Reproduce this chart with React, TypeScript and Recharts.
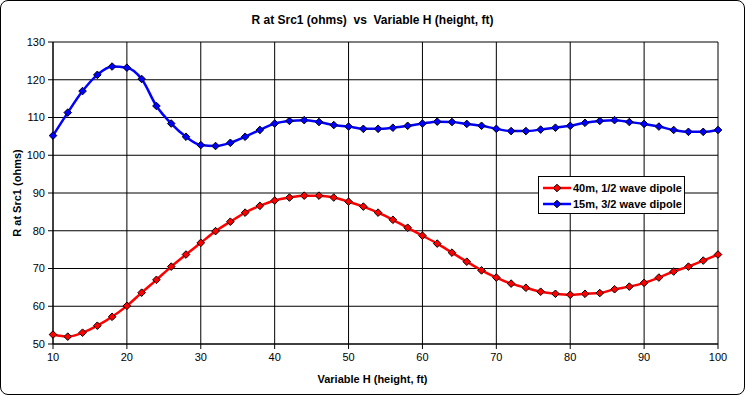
import React from 'react';
import { LineChart, Line, XAxis, YAxis, CartesianGrid, Legend } from 'recharts';

const heights = [10, 12, 14, 16, 18, 20, 22, 24, 26, 28, 30, 32, 34, 36, 38, 40, 42, 44, 46, 48, 50, 52, 54, 56, 58, 60, 62, 64, 66, 68, 70, 72, 74, 76, 78, 80, 82, 84, 86, 88, 90, 92, 94, 96, 98, 100];
const r40m = [52.5, 51.95, 53.0, 54.85, 57.2, 60.1, 63.6, 67.0, 70.5, 73.7, 76.8, 79.9, 82.4, 84.8, 86.6, 88.0, 88.8, 89.3, 89.3, 88.8, 87.7, 86.4, 84.8, 82.9, 80.8, 78.7, 76.6, 74.2, 71.8, 69.5, 67.6, 66.0, 64.9, 63.85, 63.3, 63.05, 63.3, 63.5, 64.5, 65.2, 66.2, 67.6, 69.2, 70.5, 72.1, 73.7];
const r15m = [105.2, 111.3, 117.0, 121.3, 123.5, 123.2, 120.2, 113.05, 108.4, 104.9, 102.7, 102.45, 103.3, 104.9, 106.7, 108.4, 109.1, 109.3, 108.8, 108.0, 107.6, 107.0, 107.0, 107.3, 107.8, 108.4, 108.9, 108.8, 108.3, 107.8, 107.0, 106.4, 106.4, 106.8, 107.3, 107.8, 108.6, 109.1, 109.3, 108.8, 108.3, 107.6, 106.7, 106.2, 106.2, 106.7];
const xTicks = [10, 20, 30, 40, 50, 60, 70, 80, 90, 100];
const yTicks = [50, 60, 70, 80, 90, 100, 110, 120, 130];
const seriesNames = ['40m, 1/2 wave dipole', '15m, 3/2 wave dipole'];
const seriesColors = ['#FF0000', '#0000FF'];

const data = heights.map((h, i) => ({ h, a: r40m[i], b: r15m[i] }));

const FONT = '"Liberation Sans", Arial, sans-serif';

const makeDiamond = (color: string) => (props: any) => {
  const { cx, cy, index } = props;
  if (cx == null || cy == null) return <g key={`d-${index}`} />;
  const s = 3.8;
  return (
    <path
      key={`d-${color}-${index}`}
      d={`M${cx},${cy - s}L${cx + s},${cy}L${cx},${cy + s}L${cx - s},${cy}Z`}
      fill={color}
      stroke="#000"
      strokeWidth={1}
    />
  );
};

const LegendBox = () => (
  <div
    style={{
      border: '1px solid #000',
      background: '#fff',
      width: 147,
      height: 38,
      boxSizing: 'border-box',
      padding: '3px 0 0 4px',
      fontFamily: FONT,
      fontWeight: 'bold',
      fontSize: 11,
      lineHeight: '15px',
      color: '#000',
    }}
  >
    {seriesNames.map((n, i) => (
      <div key={n} style={{ display: 'flex', alignItems: 'center', height: 16 }}>
        <svg width={28} height={12} style={{ marginRight: 2 }}>
          <line x1={0} y1={6} x2={28} y2={6} stroke={seriesColors[i]} strokeWidth={2.5} />
          <path d="M14,2.2L17.8,6L14,9.8L10.2,6Z" fill={seriesColors[i]} stroke="#000" strokeWidth={1} />
        </svg>
        <span>{n}</span>
      </div>
    ))}
  </div>
);

export default function App() {
  return (
    <div style={{ position: 'absolute', left: 0, top: 0, width: 745, height: 395, background: '#fff' }}>
      <LineChart
        width={745}
        height={395}
        data={data}
        margin={{ top: 42, right: 27, left: 0, bottom: 0 }}
      >
        <CartesianGrid stroke="#000" strokeWidth={1} horizontal vertical />
        <XAxis
          dataKey="h"
          type="number"
          domain={[10, 100]}
          ticks={xTicks}
          height={51}
          tickSize={5}
          tickMargin={4}
          axisLine={{ stroke: '#000' }}
          tickLine={{ stroke: '#000' }}
          tick={{ fill: '#000', fontSize: 11, fontFamily: FONT }}
        />
        <YAxis
          type="number"
          domain={[50, 130]}
          ticks={yTicks}
          width={53}
          tickSize={5}
          tickMargin={3}
          axisLine={{ stroke: '#000' }}
          tickLine={{ stroke: '#000' }}
          tick={{ fill: '#000', fontSize: 11, fontFamily: FONT }}
        />
        <Legend
          layout="horizontal"
          verticalAlign="middle"
          align="center"
          content={() => <LegendBox />}
          wrapperStyle={{ position: 'absolute', left: 538, top: 176, width: 147, height: 38 }}
        />
        <Line
          type="monotone"
          dataKey="a"
          name={seriesNames[0]}
          stroke={seriesColors[0]}
          strokeWidth={2.5}
          dot={makeDiamond(seriesColors[0])}
          activeDot={false}
          isAnimationActive={false}
        />
        <Line
          type="monotone"
          dataKey="b"
          name={seriesNames[1]}
          stroke={seriesColors[1]}
          strokeWidth={2.5}
          dot={makeDiamond(seriesColors[1])}
          activeDot={false}
          isAnimationActive={false}
        />
      </LineChart>
      <div
        style={{
          position: 'absolute', left: 0, top: 12, width: 745, textAlign: 'center',
          fontFamily: FONT, fontWeight: 'bold', fontSize: 12, color: '#000', lineHeight: '16px',
        }}
      >
        R at Src1 (ohms)&nbsp; vs&nbsp; Variable H (height, ft)
      </div>
      <div
        style={{
          position: 'absolute', left: 0, top: 372, width: 745, textAlign: 'center',
          fontFamily: FONT, fontWeight: 'bold', fontSize: 11, color: '#000', lineHeight: '14px',
        }}
      >
        Variable H (height, ft)
      </div>
      <div
        style={{
          position: 'absolute', left: 17, top: 193, width: 0, height: 0,
        }}
      >
        <div
          style={{
            position: 'absolute', left: -100, top: -7, width: 200, textAlign: 'center',
            transform: 'rotate(-90deg)', transformOrigin: '100px 7px',
            fontFamily: FONT, fontWeight: 'bold', fontSize: 11, color: '#000', lineHeight: '14px',
            whiteSpace: 'nowrap',
          }}
        >
          R at Src1 (ohms)
        </div>
      </div>
      <div
        style={{
          position: 'absolute', left: 0, top: 0, width: 745, height: 395, boxSizing: 'border-box',
          border: '1px solid #000', borderRadius: 8, pointerEvents: 'none',
        }}
      />
    </div>
  );
}
